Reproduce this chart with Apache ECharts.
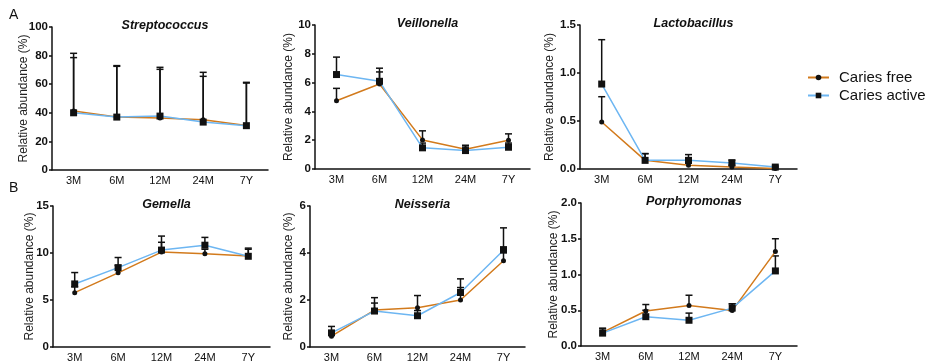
<!DOCTYPE html>
<html>
<head>
<meta charset="utf-8">
<script src="https://cdn.jsdelivr.net/npm/echarts@6/dist/echarts.min.js"></script>
<style>
html,body{margin:0;padding:0;background:#fff;}
#chart{width:927px;height:363px;}
</style>
</head>
<body>
<div id="chart"></div>
<script>
// ---- data ----
const categories = ['3M', '6M', '12M', '24M', '7Y'];
const seriesNames = ['Caries free', 'Caries active'];
const genera = ['Streptococcus', 'Veillonella', 'Lactobacillus', 'Gemella', 'Neisseria', 'Porphyromonas'];

const strepFree = [41.2, 37.0, 36.3, 35.1, 31.1];
const strepFreeHi = [81.6, 73.0, 71.8, 68.3, 61.3];
const strepActive = [40.0, 37.0, 37.7, 33.5, 31.0];
const strepActiveHi = [78.6, 72.5, 70.4, 65.5, 60.8];

const veilFree = [4.74, 5.9, 2.02, 1.37, 2.0];
const veilFreeHi = [5.6, 6.74, 2.65, 1.65, 2.44];
const veilActive = [6.56, 6.09, 1.47, 1.28, 1.51];
const veilActiveHi = [7.77, 7.0, 1.8, 1.6, 1.8];

const lactoFree = [0.49, 0.09, 0.038, 0.02, 0.005];
const lactoFreeHi = [0.753, 0.16, 0.06, 0.04, 0.01];
const lactoActive = [0.885, 0.09, 0.09, 0.062, 0.02];
const lactoActiveHi = [1.347, 0.16, 0.15, 0.094, 0.03];

const gemFree = [5.78, 7.89, 10.1, 9.93, 9.69];
const gemFreeHi = [6.4, 8.68, 11.14, 10.4, 10.4];
const gemActive = [6.71, 8.44, 10.31, 10.83, 9.65];
const gemActiveHi = [7.92, 9.52, 11.8, 11.66, 10.52];

const neisFree = [0.46, 1.57, 1.67, 2.0, 3.67];
const neisFreeHi = [0.6, 1.87, 2.19, 2.53, 4.26];
const neisActive = [0.6, 1.53, 1.33, 2.32, 4.12];
const neisActiveHi = [0.875, 2.1, 1.55, 2.9, 5.07];

const porFree = [0.19, 0.49, 0.565, 0.495, 1.32];
const porFreeHi = [0.25, 0.58, 0.71, 0.59, 1.5];
const porActive = [0.18, 0.41, 0.36, 0.53, 1.05];
const porActiveHi = [0.24, 0.5, 0.46, 0.59, 1.26];

const yMax = [100, 10, 1.5, 15, 6, 2];
const yInterval = [20, 2, 0.5, 5, 2, 0.5];
const yDecimals = [0, 0, 1, 0, 0, 1];

const panelData = [
  [strepFree, strepFreeHi, strepActive, strepActiveHi],
  [veilFree, veilFreeHi, veilActive, veilActiveHi],
  [lactoFree, lactoFreeHi, lactoActive, lactoActiveHi],
  [gemFree, gemFreeHi, gemActive, gemActiveHi],
  [neisFree, neisFreeHi, neisActive, neisActiveHi],
  [porFree, porFreeHi, porActive, porActiveHi]
];

// ---- layout / style ----
const FONT = '"Liberation Sans", Arial, Helvetica, sans-serif';
const ORANGE = '#D27A1C';
const BLUE = '#6DB6F2';
const grids = [
  {left: 52, top: 27, width: 216, height: 143},
  {left: 315, top: 25, width: 215, height: 144},
  {left: 580, top: 25, width: 217, height: 144},
  {left: 53, top: 206, width: 217, height: 143},
  {left: 310, top: 206, width: 215, height: 144},
  {left: 581, top: 203, width: 216, height: 143}
];
const nameGaps = [22, 20, 24, 17, 15, 21];

const option = {
  animation: false,
  backgroundColor: '#fff',
  title: [],
  grid: [],
  xAxis: [],
  yAxis: [],
  series: [],
  legend: {
    data: seriesNames,
    orient: 'vertical',
    left: 802,
    top: 65,
    itemWidth: 21,
    itemHeight: 7,
    itemGap: 3,
    textStyle: {fontFamily: FONT, fontSize: 15, color: '#111', padding: [0, 0, 0, 5]}
  },
  graphic: [
    {type: 'text', left: 9, top: 8, style: {text: 'A', font: '14px ' + FONT, fill: '#111'}},
    {type: 'text', left: 9, top: 181, style: {text: 'B', font: '14px ' + FONT, fill: '#111'}}
  ]
};

function errorSeries(idx, means, his) {
  const data = means.map((m, i) => [i, m, his[i]]);
  return {
    type: 'custom',
    xAxisIndex: idx, yAxisIndex: idx,
    z: 1,
    silent: true,
    data: data,
    encode: {x: 0, y: [1, 2]},
    renderItem: function (params, api) {
      const x = api.value(0), m = api.value(1), h = api.value(2);
      if (!(h > m)) return null;
      const p0 = api.coord([x, m]);
      const p1 = api.coord([x, h]);
      const st = {stroke: '#111', lineWidth: 1.5};
      return {
        type: 'group',
        children: [
          {type: 'line', shape: {x1: p0[0], y1: p0[1], x2: p1[0], y2: p1[1]}, style: st},
          {type: 'line', shape: {x1: p1[0] - 3.5, y1: p1[1], x2: p1[0] + 3.5, y2: p1[1]}, style: st}
        ]
      };
    }
  };
}

grids.forEach((g, i) => {
  option.grid.push(Object.assign({containLabel: false}, g));
  option.title.push({
    text: genera[i],
    left: g.left + g.width / 2,
    top: g.top - 13,
    textAlign: 'center',
    textStyle: {fontFamily: FONT, fontSize: 12.5, fontWeight: 'bold', fontStyle: 'italic', color: '#111'}
  });
  option.xAxis.push({
    type: 'category',
    gridIndex: i,
    data: categories,
    boundaryGap: true,
    axisLine: {lineStyle: {color: '#111', width: 1.5}},
    axisTick: {show: false},
    axisLabel: {fontFamily: FONT, fontSize: 11, color: '#111', margin: 5},
    splitLine: {show: false}
  });
  const dec = yDecimals[i];
  option.yAxis.push({
    type: 'value',
    gridIndex: i,
    min: 0,
    max: yMax[i],
    interval: yInterval[i],
    name: 'Relative abundance (%)',
    nameLocation: 'middle',
    nameGap: nameGaps[i],
    nameMoveOverlap: false,
    nameTextStyle: {fontFamily: FONT, fontSize: 12, color: '#222'},
    axisLine: {show: true, lineStyle: {color: '#111', width: 1.5}},
    axisTick: {show: true, length: 3, lineStyle: {color: '#111', width: 1.5}},
    axisLabel: {fontFamily: FONT, fontSize: 11.5, fontWeight: 'bold', color: '#111', margin: 4,
      formatter: v => Number(v).toFixed(dec)},
    splitLine: {show: false}
  });
  const [fm, fh, am, ah] = panelData[i];
  option.series.push(errorSeries(i, fm, fh));
  option.series.push(errorSeries(i, am, ah));
  option.series.push({
    name: seriesNames[0], type: 'line', xAxisIndex: i, yAxisIndex: i, z: 3,
    data: fm, symbol: 'circle', symbolSize: 5,
    lineStyle: {color: ORANGE, width: 1.5},
    itemStyle: {color: '#111', borderWidth: 0}
  });
  option.series.push({
    name: seriesNames[1], type: 'line', xAxisIndex: i, yAxisIndex: i, z: 3,
    data: am, symbol: 'rect', symbolSize: 7,
    lineStyle: {color: BLUE, width: 1.5},
    itemStyle: {color: '#111', borderWidth: 0}
  });
});

const chart = echarts.init(document.getElementById('chart'), null, {renderer: 'canvas'});
chart.setOption(option);
</script>
</body>
</html>
